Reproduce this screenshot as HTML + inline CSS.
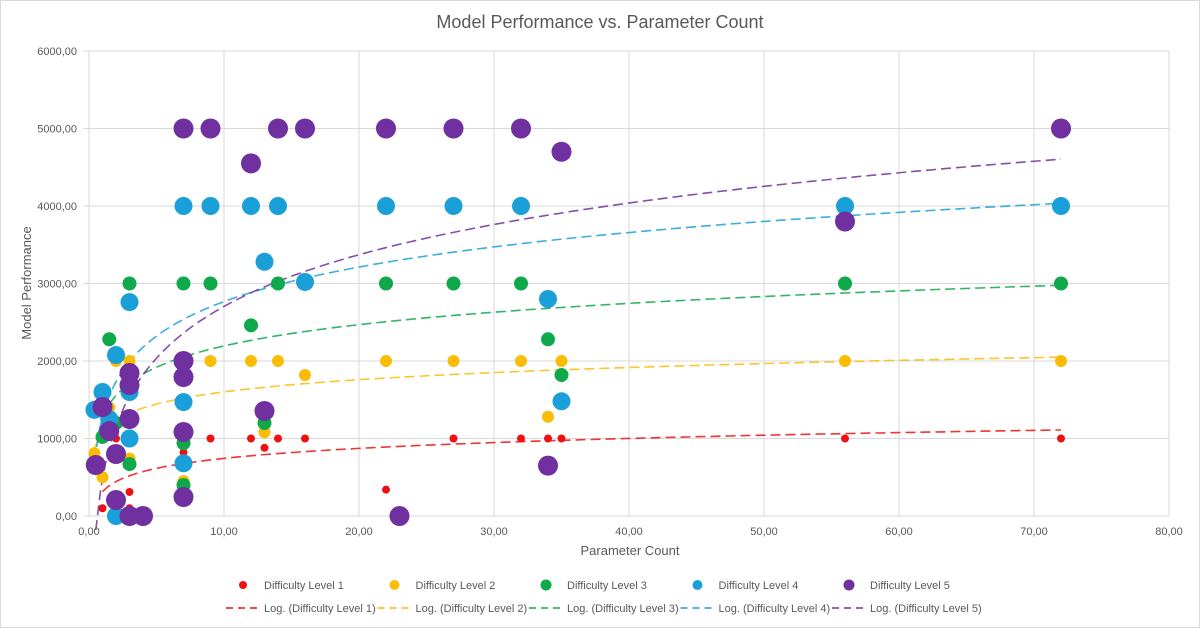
<!DOCTYPE html>
<html><head><meta charset="utf-8"><style>
body{margin:0;background:#fff}
svg{display:block;font-family:"Liberation Sans",sans-serif}
</style></head><body>
<svg id="chart" width="1200" height="628">
<rect x="0.5" y="0.5" width="1199" height="627" fill="#fff" stroke="#d9d9d9"/>
<text x="600" y="28" text-anchor="middle" font-size="18" fill="#595959">Model Performance vs. Parameter Count</text>
<g id="grid"></g><g id="trends"></g><g id="points"></g><g id="axes"></g><g id="legend"></g>
<text x="630" y="555" text-anchor="middle" font-size="13" fill="#595959">Parameter Count</text>
<text transform="translate(31,283) rotate(-90)" text-anchor="middle" font-size="13" fill="#595959">Model Performance</text>
</svg>
<script>
const xTicks=[0,10,20,30,40,50,60,70,80];
const yTicks=[0,1000,2000,3000,4000,5000,6000];
const seriesNames=["Difficulty Level 1","Difficulty Level 2","Difficulty Level 3","Difficulty Level 4","Difficulty Level 5"];
const seriesColors=["#ee1111","#fbbc05","#0fa84a","#1a9fd8","#7030a0"];
const l1x=[2,9,12,14,16,27,32,34,35,56,72,13,7,3,1,7,3,22];
const l1y=[1000,1000,1000,1000,1000,1000,1000,1000,1000,1000,1000,880,820,310,100,430,100,340];
const l2x=[2,3,9,12,14,22,27,32,35,56,72,16,13,0.4,1,3,1.5,34,7];
const l2y=[2000,2000,2000,2000,2000,2000,2000,2000,2000,2000,2000,1820,1080,810,500,740,1400,1280,450];
const l3x=[3,7,9,14,16,22,27,32,56,72,1.5,12,13,1,3,7,7,34,35,2];
const l3y=[3000,3000,3000,3000,3000,3000,3000,3000,3000,3000,2280,2460,1200,1020,670,940,400,2280,1820,1200];
const l4x=[7,9,12,14,22,27,32,56,72,13,16,34,35,3,2,1,0.4,1.5,3,3,7,7,2];
const l4y=[4000,4000,4000,4000,4000,4000,4000,4000,4000,3280,3020,2800,1480,2760,2077,1600,1370,1250,1600,1000,1470,680,0];
const l5x=[7,9,14,16,22,27,32,72,12,35,56,34,23,0.5,1,1.5,2,2,3,3,3,3,4,7,7,7,7,13];
const l5y=[5000,5000,5000,5000,5000,5000,5000,5000,4550,4700,3800,650,0,658,1406,1096,800,206,1845,1690,1251,0,0,2000,1793,1084,245,1355];
const XS=[l1x,l2x,l3x,l4x,l5x],YS=[l1y,l2y,l3y,l4y,l5y];
const radii=[4,6,7,9,10];
const legR=[4,5,5.5,5,5.5];
const X0=89,X1=1169,Y0=516,Y1=51;
const sx=v=>X0+(v-0)/(80-0)*(X1-X0);
const sy=v=>Y0-(v-0)/(6000-0)*(Y0-Y1);
const NS="http://www.w3.org/2000/svg";
function mk(tag,attrs,parent){const e=document.createElementNS(NS,tag);for(const k in attrs)e.setAttribute(k,attrs[k]);parent.appendChild(e);return e;}
const grid=document.getElementById('grid'),axes=document.getElementById('axes');
const fmt=v=>v.toFixed(2).replace('.',',');
xTicks.forEach(t=>{const l=mk('line',{x1:sx(t),x2:sx(t),y1:Y1,y2:Y0,stroke:'#d9d9d9'},grid);


const tx=mk('text',{x:sx(t),y:Y0+19,'text-anchor':'middle','font-size':11,fill:'#595959'},axes);tx.textContent=fmt(t);

});
yTicks.forEach(t=>{const l=mk('line',{x1:X0-6,x2:X1,y1:sy(t),y2:sy(t),stroke:'#d9d9d9'},grid);


const tx=mk('text',{x:77,y:sy(t)+4,'text-anchor':'end','font-size':11,fill:'#595959'},axes);tx.textContent=fmt(t);

});
const trends=document.getElementById('trends');
XS.forEach((xs,i)=>{let n=0,sl=0,sy2=0,sll=0,sly=0;xs.forEach((x,j)=>{if(x>0){const L=Math.log(x);n++;sl+=L;sy2+=YS[i][j];sll+=L*L;sly+=L*YS[i][j];}});
const b=(n*sly-sl*sy2)/(n*sll-sl*sl),a=(sy2-b*sl)/n;
const xmin=Math.min(...xs.filter(x=>x>0)),xmax=Math.max(...xs);let d='';
for(let k=0;k<=200;k++){const x=xmin+(xmax-xmin)*k/200;d+=(k?'L':'M')+sx(x).toFixed(1)+','+sy(a+b*Math.log(x)).toFixed(1);}
const p=mk('path',{d:d,fill:'none',stroke:seriesColors[i],'stroke-width':1.6,'stroke-dasharray':'10,5',opacity:0.85},trends);

});
const pts=document.getElementById('points');
XS.forEach((xs,i)=>{xs.forEach((x,j)=>{const c=mk('circle',{cx:sx(x),cy:sy(YS[i][j]),r:radii[i],fill:seriesColors[i]},pts);

});});
const lg=document.getElementById('legend');
seriesNames.forEach((nm,i)=>{const cx=243+151.5*i;const g=mk('g',{},lg);


mk('circle',{cx:cx,cy:585,r:legR[i],fill:seriesColors[i]},g);
const t=mk('text',{x:cx+21,y:589,'font-size':11,fill:'#595959'},g);t.textContent=nm;
const g2=mk('g',{},lg);


mk('line',{x1:cx-17,x2:cx+16,y1:608,y2:608,stroke:seriesColors[i],'stroke-width':1.6,'stroke-dasharray':'7,5'},g2);
const t2=mk('text',{x:cx+21,y:612,'font-size':11,fill:'#595959'},g2);t2.textContent='Log. ('+nm+')';});
</script>
</body></html>
